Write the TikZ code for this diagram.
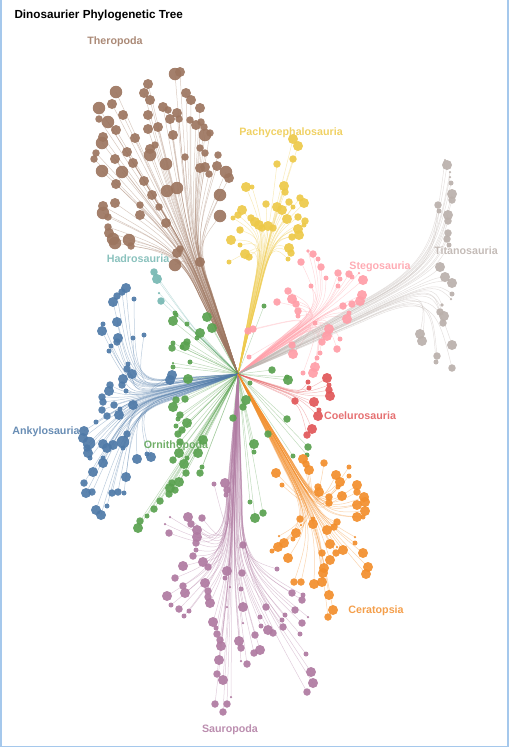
\documentclass[tikz,border=0pt]{standalone}
\usepackage{fontspec}
\setmainfont{Liberation Sans}
\usetikzlibrary{calc}

\definecolor{theropoda}{HTML}{9C755F}
\definecolor{hadrosauria}{HTML}{76B7B2}
\definecolor{pachy}{HTML}{EDC949}
\definecolor{stego}{HTML}{FF9DA7}
\definecolor{titano}{HTML}{BAB0AB}
\definecolor{coeluro}{HTML}{E15759}
\definecolor{ornitho}{HTML}{59A14F}
\definecolor{ankylo}{HTML}{4E79A7}
\definecolor{sauro}{HTML}{AF7AA1}
\definecolor{cerato}{HTML}{F28E2C}
\definecolor{framecol}{HTML}{A5C8EC}

% leaves of each clade: x/y/radius (px)
\def\theropodaPts{175/74/5, 180/72/4, 148/84/4, 116/92/5, 144/93/4, 186/93/4, 150/100/4, 191/100/4, 99/108/5, 112/104/4, 163/107/4, 168/110/3, 177/113/4, 200/108/4, 123/115/4, 148/115/4, 99/119/3, 108/122/5, 170/119/4, 179/119/3, 190/120/3, 201/122/3, 116/130/4, 148/129/4, 158/127/4, 196/125/4, 204/127/3, 103/137/4, 135/138/4, 173/135/4, 205/135/5, 210/133/3, 102/143/5, 155/145/3, 127/152/4, 150/149/4, 200/148/3, 96/153/3, 205/153/3, 94/159/3, 150/155/5, 185/157/3, 218/155/3, 115/159/4, 133/163/4, 166/164/5, 200/168/4, 205/167/4, 217/166/4, 226/172/5, 209/174/3, 102/171/5, 122/172/5, 229/178/4, 116/184/4, 144/181/4, 177/188/5, 167/191/5, 152/195/4, 220/195/5, 115/203/4, 140/205/3, 159/207/3, 103/206/4, 103/213/5, 140/215/4, 108/217/3, 220/216/5, 108/227/3, 166/223/4, 109/233/4, 113/239/5, 115/243/5, 129/240/5, 131/246/3, 177/253/4, 180/249/3, 175/265/5, 200/262/4}
\def\hadroPts{154/272/3, 157/279/4, 159/293/1, 161/301/3}
\def\pachyPts{293/139/4, 298/146/4, 293/159/3, 277/164/3, 246/187/4, 252/187/2, 284/186/4, 285/192/3, 266/204/3, 277/207/4, 282/210/4, 289/202/3, 300/198/3, 304/203/4, 293/207/2, 242/210/4, 238/215/3, 233/218/2, 287/219/4, 298/217/3, 305/221/3, 251/218/3, 255/222/4, 259/225/4, 262/228/3, 268/226/4, 273/228/3, 304/225/2, 298/229/4, 240/230/3, 299/235/4, 292/237/3, 231/240/4, 240/245/2, 289/248/4, 291/253/3, 288/259/2, 245/254/4, 249/257/3, 229/262/2}
\def\stegoPts{313/254/3, 308/251/1.5, 318/259/2, 301/262/3, 321/267/3, 338/273/3, 349/274/3, 352/277/2, 326/278/2, 340/279/2, 363/280/4, 359/273/1, 338/286/2, 311/286/2, 288/291/3, 362/295/4, 360/301/4, 292/299/4, 277/302/3, 296/304/3, 352/304/3, 343/306/3, 298/311/3, 349/313/2, 298/316/2, 347/319/4, 315/323/2, 329/329/4, 327/336/4, 322/342/3, 340/339/2, 292/345/3, 337/349/3, 320/353/2, 293/354/4, 317/358/2, 315/367/4, 313/373/4, 303/373/2, 248/331/3, 253/329/3, 249/357/2}
\def\titanoPts{447/165/4, 445/160/1, 450/172/1, 450/177/1, 451/183/2, 452/194/4, 452/200/3, 438/205/3, 439/211/2, 448/215/4, 448/221/3, 448/233/3, 447/239/3, 449/245/2, 440/267/4, 445/277/4, 452/283/4, 452/294/2, 451/299/1, 442/305/1.5, 440/312/3, 444/316/4, 443/323/3, 420/334/4, 422/341/4, 452/345/4, 437/356/3, 436/362/2, 452/368/3}
\def\coeluroPts{327/378/4, 329/385/2, 308/382/2, 329/390/3, 330/396/4, 309/388/2, 295/401/3, 314/402/4, 319/410/2, 318/416/4, 312/429/4, 307/435/3}
\def\ornithoPts{173/321/4, 176/315/2, 187/324/2, 207/317/4, 212/328/4, 200/333/4, 197/338/2, 185/346/4, 187/342/3, 173/343/2, 172/348/3, 182/347/2, 190/362/2, 173/363/1, 173/367/2, 188/379/4, 264/306/2, 272/370/3, 288/380/4, 287/377/2, 246/400/4, 243/407/3, 250/383/2, 175/313/2, 176/400/3, 185/399/3, 173/407/4, 180/415/3, 178/419/2, 187/423/4, 233/418/3, 287/419/3, 176/426/2, 182/430/3, 178/434/3, 268/434/3, 203/440/4, 180/442/3, 254/444/4, 254/452/2, 179/453/4, 198/453/4, 173/460/3, 184/464/4, 187/458/2, 186/473/3, 200/473/3, 202/467/2, 179/482/4, 172/483/3, 175/490/3, 169/494/3, 308/447/3, 307/455/2, 293/456/2, 170/488/4, 160/501/3, 154/509/3, 147/516/2, 140/521/3, 138/528/4, 250/502/2, 263/513/3, 255/518/4}
\def\ankyloPts{126/288/4, 122/292/3, 117/296/3, 113/302/4, 134/299/2, 117/322/4, 103/324/2, 102/331/4, 118/338/4, 117/342/3, 111/346/2, 109/351/2, 133/338/2, 144/335/2, 128/364/2, 127/369/3, 132/374/4, 123/379/4, 122/385/3, 126/391/2, 110/385/3, 109/391/4, 172/375/4, 170/380/4, 102/397/3, 103/402/3, 114/405/3, 133/405/4, 102/410/3, 107/416/3, 119/415/4, 120/409/2, 96/422/2, 84/431/4, 83/438/4, 89/443/5, 127/434/3, 87/448/3, 88/453/4, 103/444/4, 107/448/4, 113/445/4, 123/442/5, 123/448/2, 90/458/2, 103/458/2, 103/463/4, 137/459/4, 147/454/2, 151/457/4, 93/472/4, 126/477/4, 84/483/3, 86/493/4, 92/492/3, 112/493/3, 118/492/3, 124/493/2, 107/506/2, 96/510/4, 101/515/4}
\def\sauroPts{214/484/2, 225/483/4, 227/490/3, 226/495/2, 188/517/4, 202/518/3, 170/517/1, 191/524/3, 165/524/1, 197/530/4, 197/537/4, 169/533/3, 196/543/3, 196/550/2, 243/545/3, 193/556/3, 203/562/4, 183/566/4, 208/567/3, 277/569/2, 227/571/4, 242/573/3, 175/578/3, 225/578/2, 205/583/4, 183/586/3, 185/593/4, 208/591/3, 230/587/1, 241/589/2, 167/596/4, 208/597/3, 292/593/3, 303/595/2, 302/600/3, 210/603/4, 243/607/4, 266/607/3, 171/605/2, 179/609/3, 189/611/2, 184/616/2, 227/607/1, 295/610/3, 260/617/2, 282/620/2, 285/615/2, 213/622/4, 302/623/3, 308/617/1, 268/630/4, 273/633/3, 283/627/3, 261/626/2, 216/628/2, 217/634/3, 243/623/1, 255/635/3, 300/634/2, 220/640/3, 221/646/4, 239/641/4, 241/648/3, 260/650/4, 254/653/3, 306/654/2, 219/660/4, 241/661/1, 247/664/3, 311/672/4, 217/674/3, 223/680/4, 313/683/4, 307/692/3, 215/704/3, 227/704/3, 223/712/3, 231/697/1}
\def\ceratoPts{303/459/4, 306/464/3, 309/470/4, 324/463/3, 349/467/2, 276/473/4, 336/475/4, 340/482/4, 349/476/2, 282/485/2, 338/487/2, 357/485/4, 318/487/3, 319/492/4, 357/492/3, 342/496/4, 329/497/3, 364/497/4, 365/502/4, 357/505/4, 329/503/3, 365/511/4, 357/517/4, 363/517/2, 337/522/3, 300/519/3, 301/525/1, 313/524/4, 313/519/2, 334/527/3, 327/530/4, 296/533/4, 293/539/2, 279/536/1, 284/543/4, 330/544/4, 278/547/4, 355/537/1, 355/543/2, 343/550/4, 337/547/1, 272/551/2, 322/553/3, 336/553/3, 288/558/4, 330/560/4, 363/553/4, 368/567/4, 366/574/4, 324/568/4, 323/573/4, 294/582/3, 301/582/3, 314/584/4, 322/582/4, 329/595/4, 333/610/4, 328/617/3}

% clade/colour/hub x/hub y/leaves
\def\cladeList{thero/theropoda/190/255/\theropodaPts, hadro/hadrosauria/200/338/\hadroPts,
    pachy/pachy/268/240/\pachyPts, stego/stego/325/312/\stegoPts, titano/titano/430/278/\titanoPts,
    coeluro/coeluro/298/396/\coeluroPts, ornitho/ornitho/238/374/\ornithoPts, ankylo/ankylo/135/398/\ankyloPts,
    sauro/sauro/232/555/\sauroPts, cerato/cerato/316/515/\ceratoPts}

\begin{document}
\begin{tikzpicture}[x=1pt, y=-1pt,
    dot/.style={circle, inner sep=0pt, minimum size=#1, fill opacity=0.92},
    link/.style={line width=0.5pt, draw opacity=0.38},
    cladename/.style={font=\bfseries\fontsize{10.7}{12}\selectfont, text opacity=0.85}]
    \useasboundingbox (0,0) rectangle (509,748);
    \draw[framecol, line width=1.5pt] (0.75,0) -- (0.75,746.5) -- (507.75,746.5) -- (507.75,0);

    \node[anchor=west, font=\bfseries\fontsize{11.7}{13}\selectfont] (title) at (11,15) {Dinosaurier Phylogenetic Tree};
    \coordinate (root) at (238,374);

    % links from the root to every leaf: a narrow trunk, then a curve to the leaf
    \foreach \cl/\clr/\hx/\hy/\pts in \cladeList {
        \coordinate (\cl-hub) at (\hx,\hy);
        \coordinate (\cl-fork) at ($(root)!.6!(\cl-hub)$);
        \edef\leaves{\pts}
        \foreach \x/\y/\r [count=\i] in \leaves {
            \coordinate (\cl-\i) at (\x,\y);
            \draw[link, \clr] (root) -- ($(\cl-fork)!.1!(\cl-\i)$) .. controls ($(\cl-hub)!.12!(\cl-\i)$) and ($(\cl-hub)!.35!(\cl-\i)$) .. (\cl-\i);
        }
    }

    % clade names
    \foreach \txt/\clr/\lx/\ly in {Theropoda/theropoda/115/42, Pachycephalosauria/pachy/291/133, Hadrosauria/hadrosauria/138/259,
        Stegosauria/stego/380/267, Titanosauria/titano/466/251, Ankylosauria/ankylo/46/432, Ornithopoda/ornitho/176/446,
        Coelurosauria/coeluro/360/416, Ceratopsia/cerato/376/611, Sauropoda/sauro/230/730}
        \node[cladename, text=\clr] (name-\txt) at (\lx,\ly) {\txt};

    % leaf dots
    \foreach \cl/\clr/\hx/\hy/\pts in \cladeList {
        \edef\leaves{\pts}
        \foreach \x/\y/\r [count=\i, evaluate=\r as \dia using 2.5*\r] in \leaves
            \node[dot=\dia pt, fill=\clr] (\cl-dot-\i) at (\cl-\i) {};
    }
\end{tikzpicture}
\end{document}
